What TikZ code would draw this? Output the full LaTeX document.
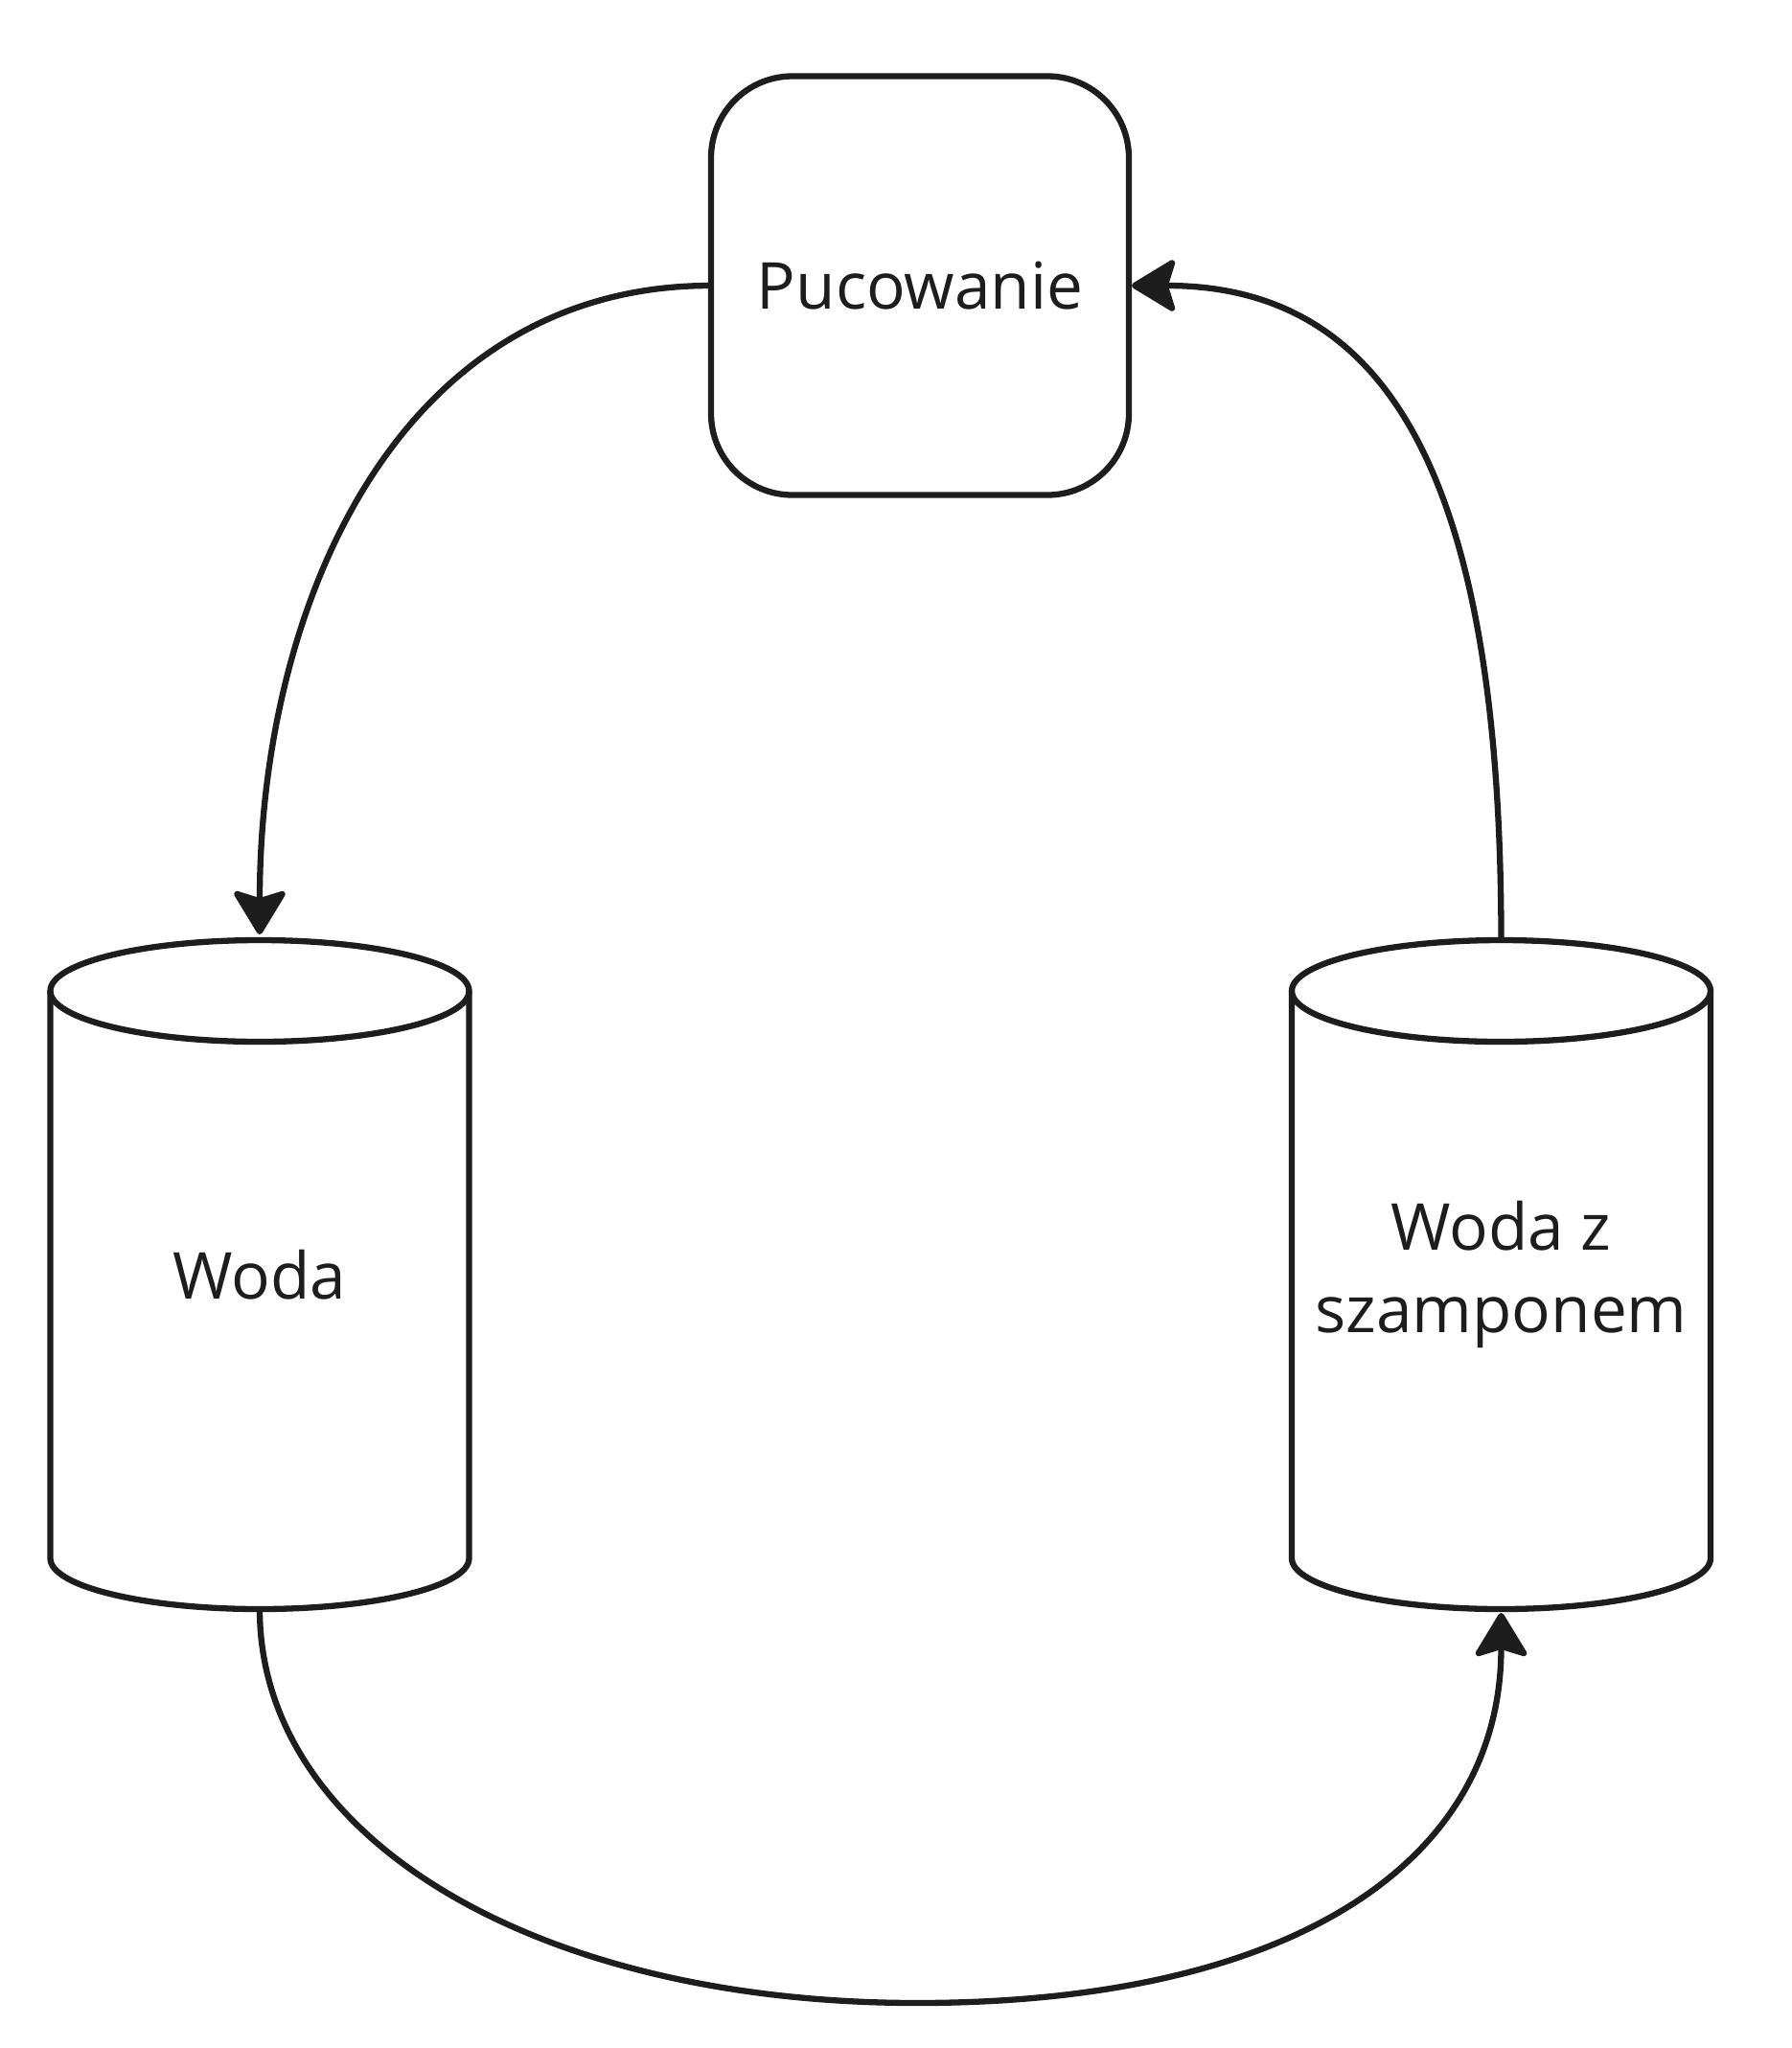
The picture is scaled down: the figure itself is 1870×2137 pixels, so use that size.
\documentclass[tikz,border=0pt]{standalone}
\usepackage{fontspec}
\setmainfont{Open Sans}
\usetikzlibrary{arrows.meta,calc}
\definecolor{ink}{HTML}{1D1D1D}
\tikzset{
  ln/.style={line width=6.3pt, draw=ink, line join=round},
  conn/.style={ln, -{Stealth[length=50pt,width=60pt,inset=9pt,round]}},
  boxnode/.style={ln, rounded corners=85pt, minimum width=436pt, minimum height=437pt, outer sep=0pt, inner sep=0pt, text=ink, align=center},
  tanknode/.style={minimum width=437pt, minimum height=698pt, outer sep=0pt, inner sep=0pt, text=ink, align=center},
  lbl/.style={font=\fontsize{67.5pt}{86pt}\selectfont}
}
\begin{document}
\begin{tikzpicture}[x=1pt,y=-1pt]
\useasboundingbox[fill=white] (0,0) rectangle (1870,2137);

\node[boxnode,lbl] (puc) at (960,298) {Pucowanie};
\node[tanknode,lbl] (woda) at (271,1330) {Woda};
\node[tanknode,lbl] (wodasz) at (1566.5,1330) {Woda z\\szamponem};

\foreach \t in {woda,wodasz}{
  \draw[ln] ([yshift=-53pt]\t.north west) -- ([yshift=53pt]\t.south west)
    arc[start angle=180, end angle=360, x radius=218.5pt, y radius=53pt]
    -- ([yshift=-53pt]\t.north east);
  \draw[ln] ([yshift=-53pt]\t.north) ellipse [x radius=218.5pt, y radius=53pt];
}

\draw[conn, shorten >=6pt] (puc.west) .. controls (412,298) and (271,636) .. (woda.north);
\draw[conn, shorten >=3pt] (wodasz.north) .. controls (1566.5,503) and (1451,298) .. (puc.east);
\draw[conn, shorten >=4pt] (woda.south) .. controls (271,1918) and (559,2090) .. (957,2090)
   .. controls (1347,2090) and (1566.5,1944) .. (wodasz.south);
\end{tikzpicture}
\end{document}
